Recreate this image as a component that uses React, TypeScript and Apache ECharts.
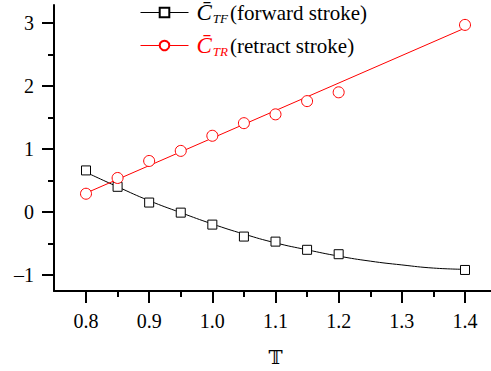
import React, { useEffect, useRef } from "react";
import * as echarts from "echarts";

const tValues = [0.8, 0.85, 0.9, 0.95, 1.0, 1.05, 1.1, 1.15, 1.2, 1.4];
const ctfValues = [0.66, 0.4, 0.15, -0.01, -0.2, -0.39, -0.47, -0.6, -0.67, -0.92];
const ctrValues = [0.29, 0.54, 0.81, 0.97, 1.21, 1.41, 1.55, 1.76, 1.9, 2.97];
const tfFitT = [0.8, 0.85, 0.9, 0.95, 1.0, 1.05, 1.1, 1.15, 1.2, 1.25, 1.3, 1.35, 1.4];
const tfFitValues = [0.63, 0.4, 0.18, -0.01, -0.19, -0.35, -0.49, -0.6, -0.7, -0.78, -0.84, -0.89, -0.91];
const trFitT = [0.8, 1.4];
const trFitValues = [0.3, 2.92];

const FONT = "'Liberation Serif', 'Times New Roman', Times, serif";

const richStyles = {
  c: { fontFamily: FONT, fontStyle: "italic", fontSize: 23, color: "#000", padding: [0, 0, 0, 3] },
  s: { fontFamily: FONT, fontStyle: "italic", fontSize: 13, color: "#000", padding: [12, 2, 0, 1] },
  cr: { fontFamily: FONT, fontStyle: "italic", fontSize: 23, color: "#ff0000", padding: [0, 0, 0, 3] },
  sr: { fontFamily: FONT, fontStyle: "italic", fontSize: 13, color: "#ff0000", padding: [12, 2, 0, 1] },
  t: { fontFamily: FONT, fontSize: 21, color: "#000" },
};

function makeLegend(name: string, color: string, top: number) {
  return {
    orient: "vertical",
    left: 135,
    top,
    itemWidth: 48,
    itemHeight: 12,
    data: [{ name, lineStyle: { opacity: 1, width: 1, color } }],
    formatter: (n: string) =>
      n === "TF"
        ? "{c|C\u0304}{s|TF}{t|(forward stroke)}"
        : "{cr|C\u0304}{sr|TR}{t|(retract stroke)}",
    textStyle: { fontFamily: FONT, fontSize: 21, color: "#000", rich: richStyles },
  };
}

export default function App() {
  const ref = useRef<HTMLDivElement>(null);
  useEffect(() => {
    const chart = echarts.init(ref.current!, null, { renderer: "svg" });
    const zip = (xs: number[], ys: number[]) => xs.map((x, i) => [x, ys[i]]);
    chart.setOption({
      animation: false,
      backgroundColor: "#fff",
      grid: [
        { left: 54, right: 0, top: 5, bottom: 80, outerBoundsMode: "none", containLabel: false },
        { left: 86, right: 26, top: 23, bottom: 96, outerBoundsMode: "none", containLabel: false },
      ],
      xAxis: [
        {
          gridIndex: 0, type: "value", min: 0, max: 1,
          axisLine: { show: true, onZero: false, lineStyle: { color: "#000", width: 2 } },
          axisTick: { show: false }, axisLabel: { show: false }, splitLine: { show: false },
        },
        {
          gridIndex: 1, type: "value", min: 0.8, max: 1.4, interval: 0.1, offset: 16,
          axisLine: { show: false, onZero: false },
          axisTick: { show: true, inside: false, length: 12, lineStyle: { color: "#000", width: 2 } },
          minorTick: { show: true, splitNumber: 2, length: 6, lineStyle: { color: "#000", width: 2 } },
          axisLabel: { fontFamily: FONT, fontSize: 20, color: "#000", margin: 20, formatter: (v: number) => v.toFixed(1) },
          splitLine: { show: false },
          name: "𝕋", nameLocation: "middle", nameGap: 56,
          nameTextStyle: { fontFamily: "'DejaVu Serif', serif", fontSize: 19, lineHeight: 19, color: "#000" },
        },
      ],
      yAxis: [
        {
          gridIndex: 0, type: "value", min: 0, max: 1,
          axisLine: { show: true, onZero: false, lineStyle: { color: "#000", width: 2 } },
          axisTick: { show: false }, axisLabel: { show: false }, splitLine: { show: false },
        },
        {
          gridIndex: 1, type: "value", min: -1, max: 3, interval: 1, offset: 32,
          axisLine: { show: false, onZero: false },
          axisTick: { show: true, inside: false, length: 12, lineStyle: { color: "#000", width: 2 } },
          minorTick: { show: true, splitNumber: 2, length: 6, lineStyle: { color: "#000", width: 2 } },
          axisLabel: { fontFamily: FONT, fontSize: 20, color: "#000", margin: 20, formatter: (v: number) => (v < 0 ? "\u2013" + Math.abs(v) : String(v)) },
          splitLine: { show: false },
        },
      ],
      legend: [makeLegend("TF", "#000", -4), makeLegend("TR", "#ff0000", 29)],
      series: [
        {
          name: "TF", type: "line", xAxisIndex: 1, yAxisIndex: 1,
          data: zip(tValues, ctfValues),
          symbol: "rect", symbolSize: 9,
          itemStyle: { color: "#fff", borderColor: "#000", borderWidth: 1 },
          lineStyle: { opacity: 0 }, z: 3,
        },
        {
          name: "TR", type: "line", xAxisIndex: 1, yAxisIndex: 1,
          data: zip(tValues, ctrValues),
          symbol: "circle", symbolSize: 11,
          itemStyle: { color: "#fff", borderColor: "#ff0000", borderWidth: 1 },
          lineStyle: { opacity: 0 }, z: 3,
        },
        {
          name: "tfFit", type: "line", xAxisIndex: 1, yAxisIndex: 1,
          data: zip(tfFitT, tfFitValues), smooth: true, symbol: "none",
          lineStyle: { color: "#000", width: 1 }, z: 2,
        },
        {
          name: "trFit", type: "line", xAxisIndex: 1, yAxisIndex: 1,
          data: zip(trFitT, trFitValues), symbol: "none",
          lineStyle: { color: "#ff0000", width: 1 }, z: 2,
        },
      ],
    });
    return () => chart.dispose();
  }, []);
  return <div ref={ref} style={{ width: 491, height: 371, position: "absolute", left: 0, top: 0 }} />;
}
